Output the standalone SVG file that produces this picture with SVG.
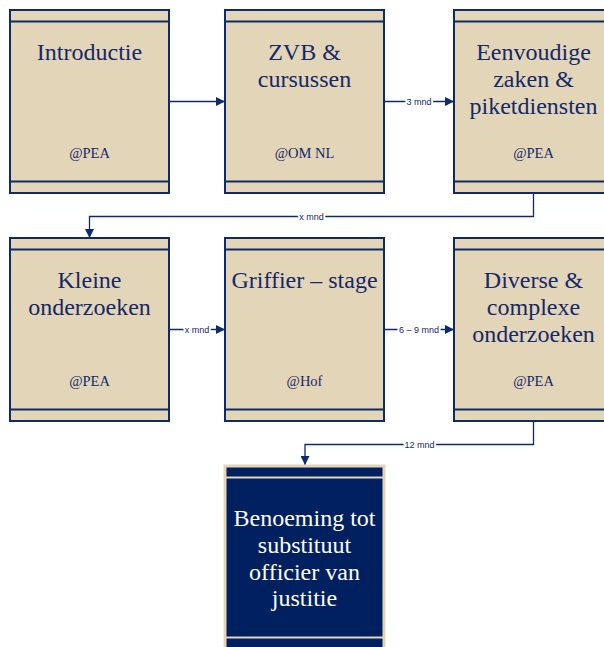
<svg xmlns="http://www.w3.org/2000/svg" width="604" height="647" viewBox="0 0 604 647">
<defs>
<style>
.box{fill:#E3D5B7;stroke:#0F2A6B;stroke-width:2}
.band{stroke:#0F2A6B;stroke-width:2}
.fbox{fill:#002060;stroke:#E3D5B7;stroke-width:3}
.fband{stroke:#E3D5B7;stroke-width:2}
.t{font-family:"Liberation Serif","Times New Roman",serif;font-size:24px;fill:#14286A;text-anchor:middle}
.s{font-family:"Liberation Serif","Times New Roman",serif;font-size:14.5px;fill:#14286A;text-anchor:middle}
.ft{font-family:"Liberation Serif","Times New Roman",serif;font-size:24px;fill:#FFFFFF;text-anchor:middle}
.c{fill:none;stroke:#0F2A6B;stroke-width:1.3}
.l{font-family:"Liberation Sans",Arial,sans-serif;font-size:9px;fill:#14286A;text-anchor:middle;stroke:#FFFFFF;stroke-width:4;paint-order:stroke;stroke-linejoin:round}
</style>
<marker id="ah" viewBox="0 0 10 10" refX="10" refY="5" markerWidth="9" markerHeight="9" markerUnits="userSpaceOnUse" orient="auto">
<path d="M0,0 L10,5 L0,10 z" fill="#0F2A6B"/>
</marker>
</defs>
<rect width="604" height="647" fill="#FFFFFF"/>

<g id="connectors">
<path class="c" d="M169,101.5 H225" marker-end="url(#ah)"/>
<path class="c" d="M384,101.5 H454" marker-end="url(#ah)"/>
<text class="l" x="419" y="104.5">3 mnd</text>
<path class="c" d="M533.5,193 V216.5 H89.5 V238" marker-end="url(#ah)"/>
<text class="l" x="311.5" y="219.5">x mnd</text>
<path class="c" d="M169,329.5 H225" marker-end="url(#ah)"/>
<text class="l" x="197" y="332.5">x mnd</text>
<path class="c" d="M384,329.5 H454" marker-end="url(#ah)"/>
<text class="l" x="419" y="332.5">6 – 9 mnd</text>
<path class="c" d="M533.5,421 V444.5 H305 V465" marker-end="url(#ah)"/>
<text class="l" x="419.5" y="447.5">12 mnd</text>
</g>

<g id="introductie">
<rect class="box" x="10" y="10" width="159" height="183"/>
<line class="band" x1="10" y1="21.5" x2="169" y2="21.5"/>
<line class="band" x1="10" y1="181.5" x2="169" y2="181.5"/>
<text class="t" x="89.5" y="60">Introductie</text>
<text class="s" x="89.5" y="158">@PEA</text>
</g>

<g id="zvb">
<rect class="box" x="225" y="10" width="159" height="183"/>
<line class="band" x1="225" y1="21.5" x2="384" y2="21.5"/>
<line class="band" x1="225" y1="181.5" x2="384" y2="181.5"/>
<text class="t" x="304.5" y="60">ZVB &amp;</text>
<text class="t" x="304.5" y="87">cursussen</text>
<text class="s" x="304.5" y="158">@OM NL</text>
</g>

<g id="eenvoudige">
<rect class="box" x="454" y="10" width="159" height="183"/>
<line class="band" x1="454" y1="21.5" x2="613" y2="21.5"/>
<line class="band" x1="454" y1="181.5" x2="613" y2="181.5"/>
<text class="t" x="533.5" y="60">Eenvoudige</text>
<text class="t" x="533.5" y="87">zaken &amp;</text>
<text class="t" x="533.5" y="114">piketdiensten</text>
<text class="s" x="533.5" y="158">@PEA</text>
</g>

<g id="kleine">
<rect class="box" x="10" y="238" width="159" height="183"/>
<line class="band" x1="10" y1="249.5" x2="169" y2="249.5"/>
<line class="band" x1="10" y1="409.5" x2="169" y2="409.5"/>
<text class="t" x="89.5" y="288">Kleine</text>
<text class="t" x="89.5" y="315">onderzoeken</text>
<text class="s" x="89.5" y="386">@PEA</text>
</g>

<g id="griffier">
<rect class="box" x="225" y="238" width="159" height="183"/>
<line class="band" x1="225" y1="249.5" x2="384" y2="249.5"/>
<line class="band" x1="225" y1="409.5" x2="384" y2="409.5"/>
<text class="t" x="304.5" y="288">Griffier – stage</text>
<text class="s" x="304.5" y="386">@Hof</text>
</g>

<g id="diverse">
<rect class="box" x="454" y="238" width="159" height="183"/>
<line class="band" x1="454" y1="249.5" x2="613" y2="249.5"/>
<line class="band" x1="454" y1="409.5" x2="613" y2="409.5"/>
<text class="t" x="533.5" y="288">Diverse &amp;</text>
<text class="t" x="533.5" y="315">complexe</text>
<text class="t" x="533.5" y="342">onderzoeken</text>
<text class="s" x="533.5" y="386">@PEA</text>
</g>

<g id="benoeming">
<rect class="fbox" x="225" y="466" width="159" height="183"/>
<line class="fband" x1="225" y1="477.5" x2="384" y2="477.5"/>
<line class="fband" x1="225" y1="637.5" x2="384" y2="637.5"/>
<text class="ft" x="304.5" y="526">Benoeming tot</text>
<text class="ft" x="304.5" y="553">substituut</text>
<text class="ft" x="304.5" y="580">officier van</text>
<text class="ft" x="304.5" y="606">justitie</text>
</g>
</svg>
